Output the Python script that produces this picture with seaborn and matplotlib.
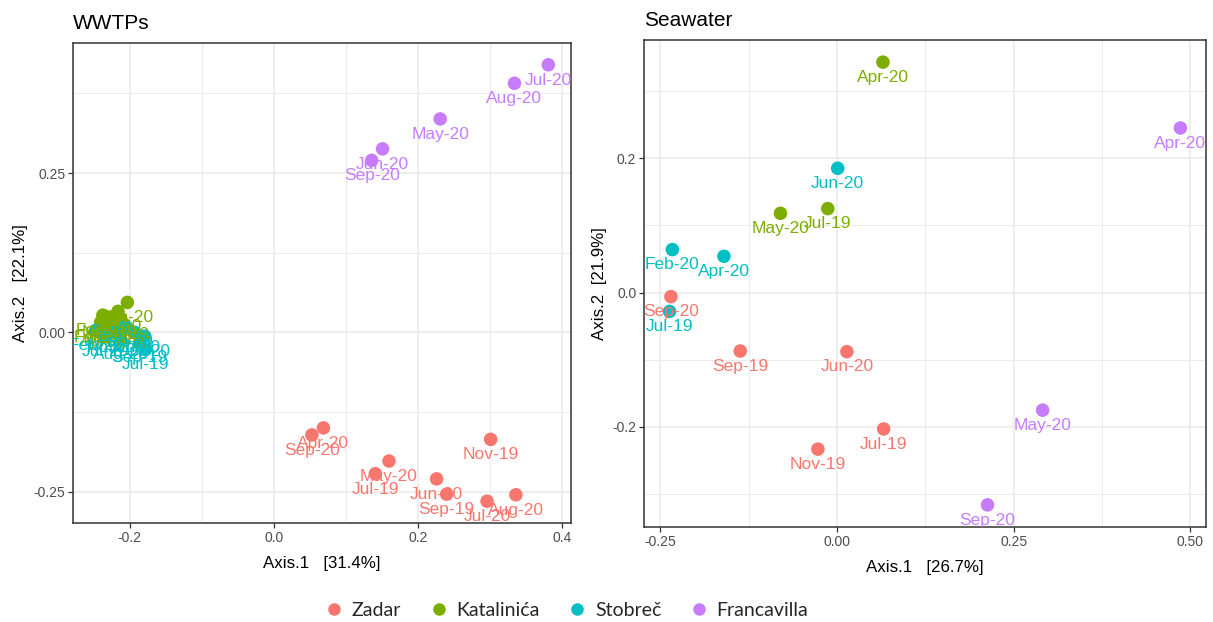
import matplotlib
matplotlib.use("Agg")
import matplotlib.pyplot as plt
import seaborn as sns
import pandas as pd
from matplotlib.ticker import MultipleLocator, FormatStrFormatter
from matplotlib.lines import Line2D

# Sampling sites and their colours
sites = ["Zadar", "Katalinića", "Stobreč", "Francavilla"]
site_colors = ["#F8766D", "#7CAE00", "#00BFC4", "#C77CFF"]

# PCoA of wastewater treatment plant samples
wwtp_site = (["Zadar"] * 9 + ["Katalinića"] * 9 + ["Stobreč"] * 9 + ["Francavilla"] * 5)
wwtp_month = [
    "Apr-20", "Sep-20", "Nov-19", "May-20", "Jul-19", "Jun-20", "Sep-19", "Jul-20", "Aug-20",
    "Jun-20", "Jul-20", "Feb-20", "Nov-19", "Feb-20", "Sep-19", "May-20", "Apr-20", "Aug-20",
    "Feb-20", "Jun-20", "Apr-20", "Sep-19", "Jul-19", "Nov-19", "Jul-20", "Feb-20", "Aug-20",
    "Jul-20", "Aug-20", "May-20", "Jun-20", "Sep-20",
]
wwtp_ax1 = [
    0.069, 0.053, 0.301, 0.160, 0.141, 0.226, 0.240, 0.296, 0.336,
    -0.203, -0.216, -0.237, -0.227, -0.240, -0.212, -0.221, -0.233, -0.208,
    -0.205, -0.193, -0.179, -0.186, -0.178, -0.221, -0.234, -0.247, -0.212,
    0.381, 0.334, 0.231, 0.151, 0.136,
]
wwtp_ax2 = [
    -0.150, -0.161, -0.168, -0.202, -0.222, -0.230, -0.254, -0.265, -0.255,
    0.047, 0.033, 0.027, 0.024, 0.016, 0.020, 0.013, 0.009, 0.008,
    0.009, 0.000, -0.006, -0.016, -0.027, 0.000, -0.006, 0.003, -0.011,
    0.420, 0.391, 0.335, 0.288, 0.270,
]

# PCoA of seawater samples
sea_site = (["Zadar"] * 5 + ["Katalinića"] * 3 + ["Stobreč"] * 4 + ["Francavilla"] * 3)
sea_month = [
    "Sep-20", "Sep-19", "Jun-20", "Jul-19", "Nov-19",
    "Apr-20", "May-20", "Jul-19",
    "Jun-20", "Feb-20", "Apr-20", "Jul-19",
    "Apr-20", "May-20", "Sep-20",
]
sea_ax1 = [
    -0.235, -0.137, 0.014, 0.066, -0.027,
    0.065, -0.080, -0.013,
    0.001, -0.233, -0.160, -0.237,
    0.486, 0.291, 0.213,
]
sea_ax2 = [
    -0.006, -0.087, -0.088, -0.203, -0.233,
    0.343, 0.118, 0.125,
    0.185, 0.064, 0.054, -0.028,
    0.245, -0.175, -0.316,
]

wwtp = pd.DataFrame({"site": wwtp_site, "month": wwtp_month,
                     "ax1": wwtp_ax1, "ax2": wwtp_ax2})
sea = pd.DataFrame({"site": sea_site, "month": sea_month,
                    "ax1": sea_ax1, "ax2": sea_ax2})

sns.set_theme(style="white")
plt.rcParams["font.family"] = ["Liberation Sans", "DejaVu Sans"]
plt.rcParams["axes.unicode_minus"] = False

palette = dict(zip(sites, site_colors))
border = "#333333"
grid = "#EBEBEB"

fig = plt.figure(figsize=(12.13, 6.22), dpi=100)
ax_l = fig.add_axes([0.0602, 0.1592, 0.4105, 0.7717])
ax_r = fig.add_axes([0.5309, 0.1527, 0.4633, 0.7830])


def panel(ax, df, title, xlab, ylab, xmaj, ymaj, ypad):
    sns.scatterplot(data=df, x="ax1", y="ax2", hue="site", hue_order=sites,
                    palette=palette, s=95, linewidth=0, alpha=1,
                    legend=False, ax=ax, zorder=3)
    for _, r in df.iterrows():
        ax.annotate(r["month"], (r["ax1"], r["ax2"]), xytext=(0, -11),
                    textcoords="offset points", ha="center", va="center",
                    color=palette[r["site"]], fontsize=12.5, zorder=4,
                    annotation_clip=False, clip_on=True)
    # 5% expansion on both axes
    for lim_set, col in ((ax.set_xlim, "ax1"), (ax.set_ylim, "ax2")):
        lo, hi = df[col].min(), df[col].max()
        pad = 0.05 * (hi - lo)
        lim_set(lo - pad, hi + pad)
    ax.xaxis.set_major_locator(MultipleLocator(xmaj))
    ax.xaxis.set_minor_locator(MultipleLocator(xmaj / 2))
    ax.yaxis.set_major_locator(MultipleLocator(ymaj))
    ax.yaxis.set_minor_locator(MultipleLocator(ymaj / 2))
    ax.set_facecolor("white")
    ax.grid(which="major", color=grid, linewidth=1.2, zorder=0)
    ax.grid(which="minor", color=grid, linewidth=0.7, zorder=0)
    ax.set_axisbelow(True)
    for sp in ax.spines.values():
        sp.set_visible(True)
        sp.set_color(border)
        sp.set_linewidth(1.1)
    ax.tick_params(which="major", direction="out", length=3.5, width=0.9,
                   color=border, labelcolor="#4D4D4D", labelsize=10, pad=2,
                   bottom=True, left=True)
    ax.tick_params(which="minor", length=0)
    ax.set_xlabel(xlab, fontsize=12.2, color="black", labelpad=8)
    ax.set_ylabel(ylab, fontsize=12.2, color="black", labelpad=ypad)
    ax.set_title(title, loc="left", fontsize=15, color="black", pad=10)


panel(ax_l, wwtp, "WWTPs", "Axis.1   [31.4%]", "Axis.2   [22.1%]", 0.2, 0.25, 4)
ax_l.yaxis.set_major_formatter(FormatStrFormatter("%.2f"))
panel(ax_r, sea, "Seawater", "Axis.1   [26.7%]", "Axis.2  [21.9%]", 0.25, 0.2, 4)
ax_r.xaxis.set_major_formatter(FormatStrFormatter("%.2f"))
ax_r.yaxis.set_major_formatter(FormatStrFormatter("%.1f"))

handles = [Line2D([0], [0], marker="o", linestyle="", markersize=9,
                  markerfacecolor=c, markeredgewidth=0) for c in site_colors]
fig.legend(handles, sites, loc="center", bbox_to_anchor=(0.466, 0.019),
           ncol=4, frameon=False, handletextpad=0.3, columnspacing=1.35,
           handlelength=1.2, prop={"family": "Lato", "size": 14})

fig.savefig("out.png", dpi=100)
